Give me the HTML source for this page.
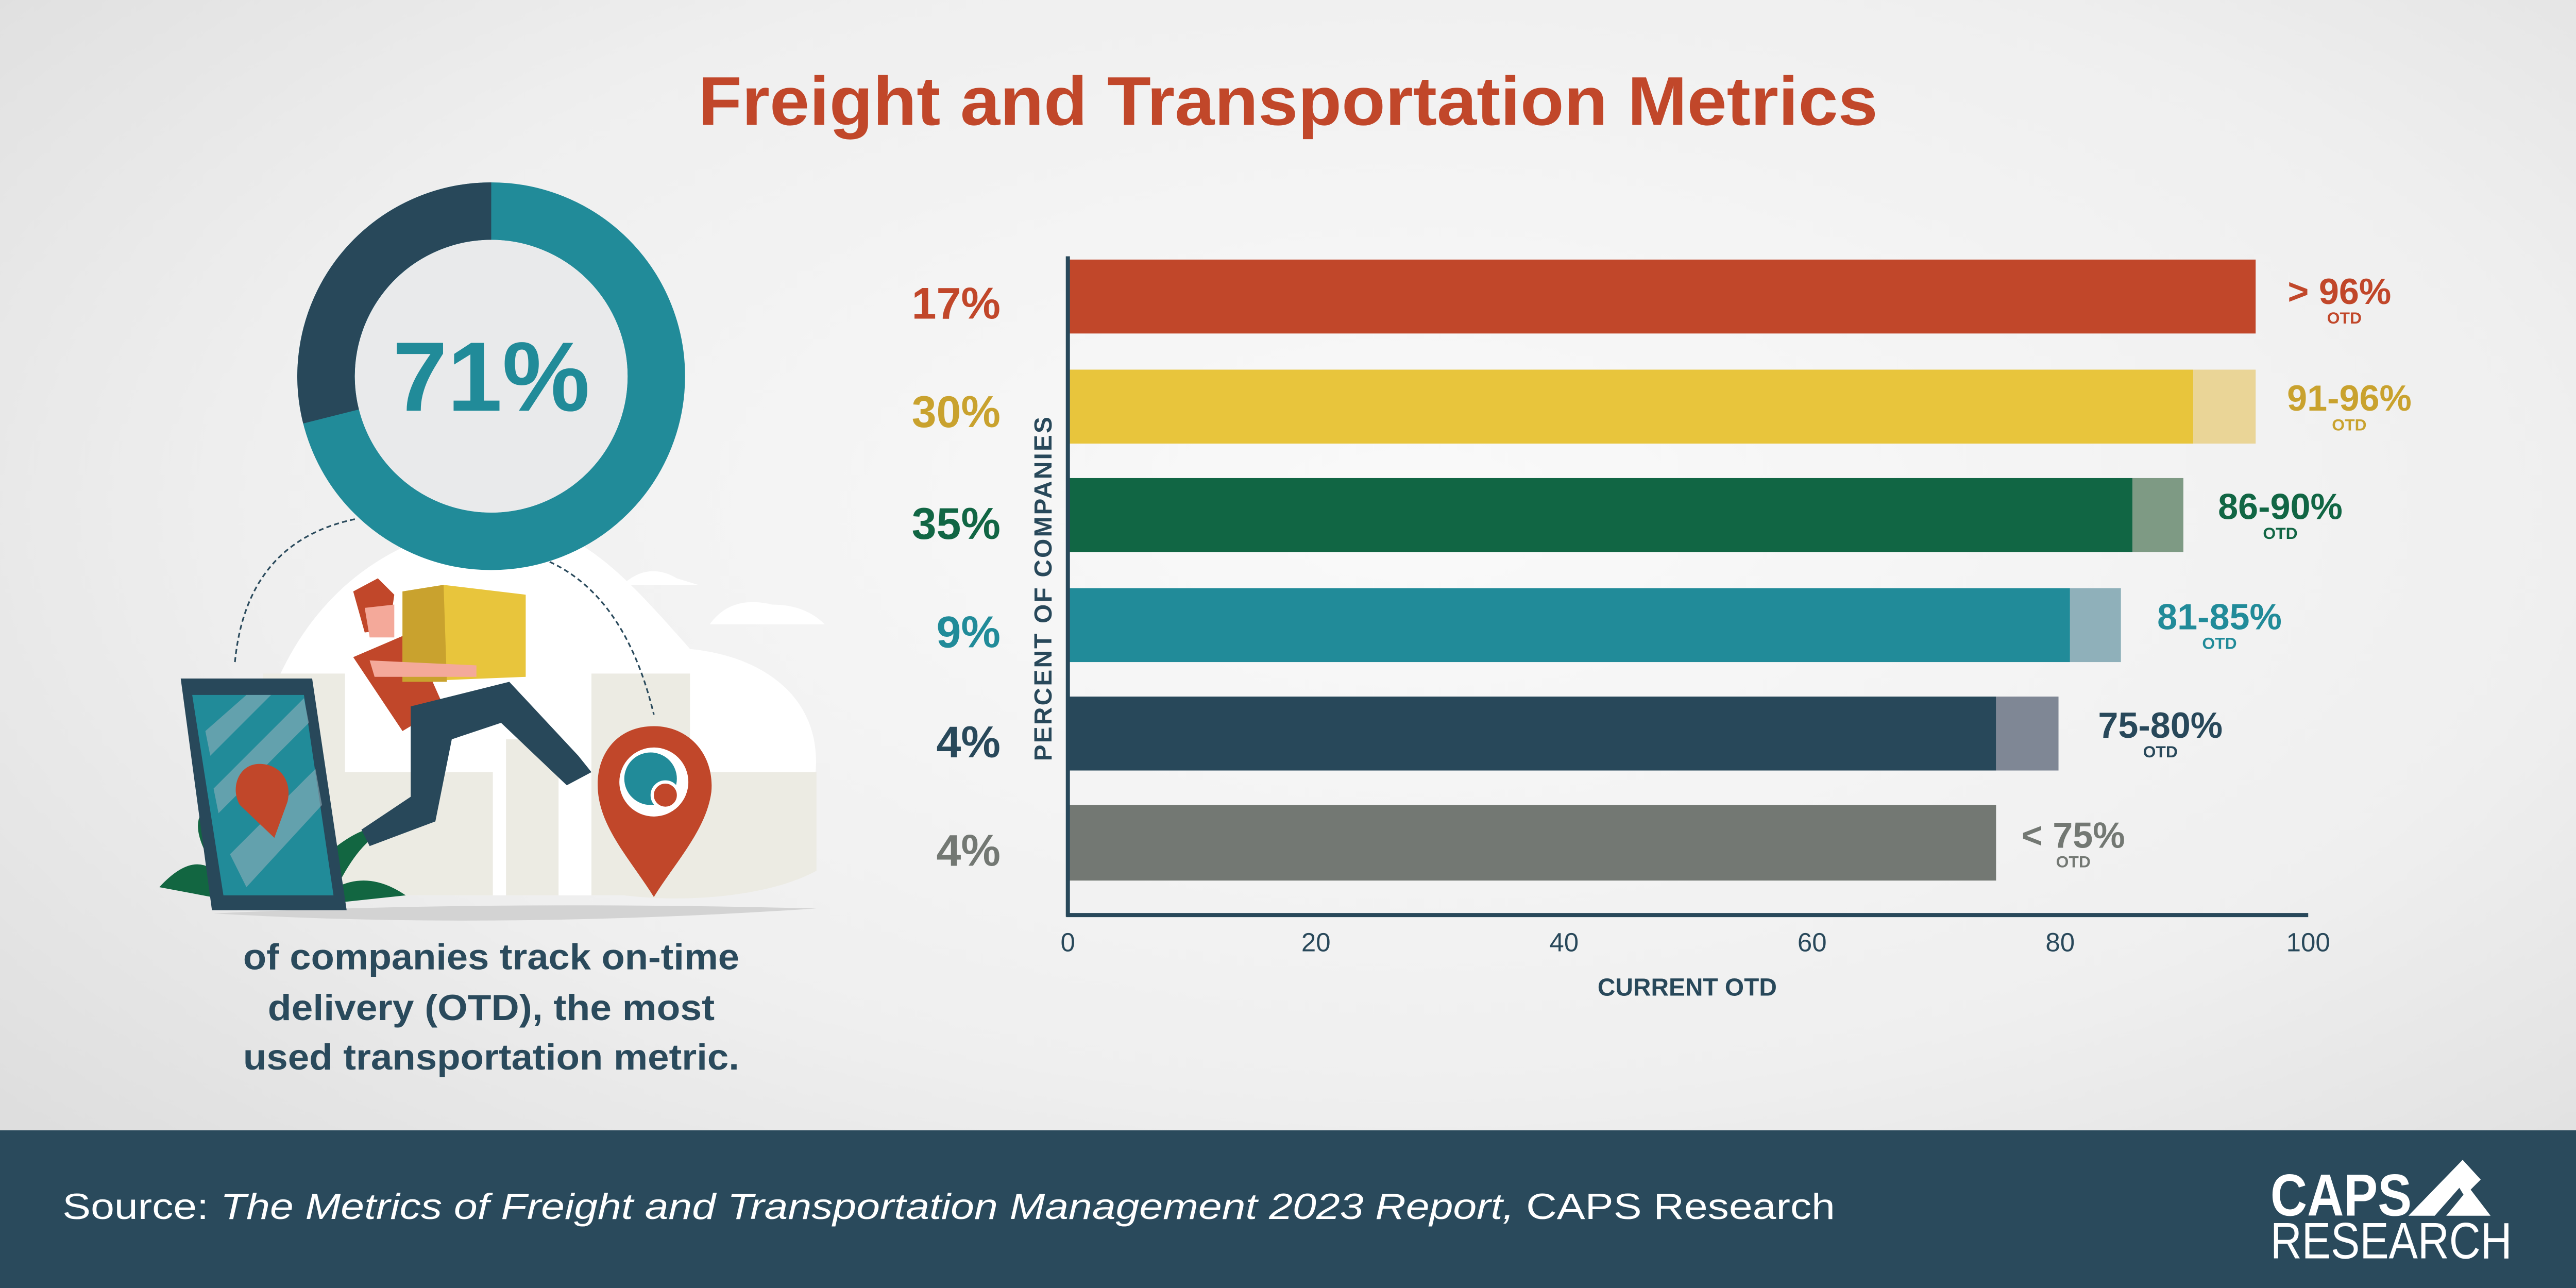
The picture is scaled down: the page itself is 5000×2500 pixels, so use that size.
<!DOCTYPE html>
<html><head><meta charset="utf-8"><style>
html,body{margin:0;padding:0;width:5000px;height:2500px;overflow:hidden;background:#eee}
svg{display:block}
text{font-family:"Liberation Sans",sans-serif}
</style></head><body>
<svg width="5000" height="2500" viewBox="0 0 1568 784" xmlns="http://www.w3.org/2000/svg">
<defs>
<radialGradient id="bg" cx="0.55" cy="0.4" r="0.75">
<stop offset="0" stop-color="#fafafa"/><stop offset="0.6" stop-color="#efefef"/><stop offset="1" stop-color="#dcdcdc"/>
</radialGradient>
</defs>
<rect width="1568" height="784" fill="url(#bg)"/>
<text x="784" y="76" text-anchor="middle" font-size="42" font-weight="bold" fill="#C1472A" textLength="718" lengthAdjust="spacingAndGlyphs">Freight and Transportation Metrics</text>

<g>
<path d="M150,545 C140,430 190,330 300,318 C350,315 380,350 420,395 C470,400 505,430 495,480 C490,530 440,545 400,545 Z" fill="#ffffff"/>
<path d="M160,545 L160,410 L210,410 L210,545 Z" fill="#ecebe3"/>
<path d="M190,470 L300,470 L300,545 L190,545 Z" fill="#ecebe3"/>
<path d="M360,410 L420,410 L420,470 L497,470 L497,530 C470,545 420,550 380,545 L360,545 Z" fill="#ecebe3"/>
<path d="M308,450 L340,450 L340,545 L308,545 Z" fill="#ecebe3"/>
<path d="M380,355 Q395,342 412,352 L425,356 L380,356 Z" fill="#fff"/>
<path d="M432,380 Q445,362 470,368 Q490,368 502,380 Z" fill="#fff"/>
<path d="M130,556 Q300,548 497,553 Q300,566 130,556 Z" fill="#d3d3d3"/>
<path d="M143,403 Q150,330 216,316" fill="none" stroke="#2A4A5C" stroke-width="1" stroke-dasharray="3,2"/>
<path d="M330,340 Q380,360 398,435" fill="none" stroke="#2A4A5C" stroke-width="1" stroke-dasharray="3,2"/>
<path d="M97,540 Q120,515 135,535 Q110,500 128,490 Q150,515 150,550 Z" fill="#126641"/>
<path d="M247,545 Q225,530 205,540 Q220,510 236,505 Q225,500 205,515 L200,550 Z" fill="#126641"/>
<path d="M110,413 L190,413 L211,554 L129,554 Z" fill="#28485A"/>
<path d="M117,423 L185,423 L203,545 L136,545 Z" fill="#218B99"/>
<path d="M125,445 L150,423 L165,423 L128,460 Z M130,480 L185,425 L188,440 L133,495 Z M140,520 L192,468 L196,490 L150,540 Z" fill="#8FB0BA" opacity="0.6"/>
<path d="M158,465 C145,465 140,480 146,490 L167,510 L175,488 C178,475 170,465 158,465 Z" fill="#C1472A"/>
<path d="M215,360 L230,352 L240,362 L237,383 L222,385 Z" fill="#C1472A"/>
<path d="M222,370 L240,368 L240,388 L225,388 Z" fill="#f4a99a"/>
<path d="M215,400 L250,385 L270,430 L245,445 Z" fill="#C1472A"/>
<path d="M245,360 L270,356 L320,362 L320,412 L245,415 Z" fill="#E8C53C"/>
<path d="M245,360 L270,356 L272,415 L245,415 Z" fill="#C9A22E"/>
<path d="M250,430 L310,415 L352,460 L360,470 L345,478 L305,440 L275,450 L265,500 L225,515 L220,505 L250,485 Z" fill="#28485A"/>
<path d="M225,402 L290,405 L290,412 L228,412 Z" fill="#f4a99a"/>
<path d="M398,442 C375,442 362,460 364,482 C366,505 385,525 398,546 C411,525 430,505 433,482 C435,460 420,442 398,442 Z" fill="#C1472A"/>
<circle cx="398" cy="476" r="21" fill="#fff"/>
<circle cx="396" cy="474" r="16" fill="#218B99"/>
<circle cx="405" cy="484" r="8" fill="#C1472A" stroke="#fff" stroke-width="2"/>
<circle cx="299" cy="229" r="100.5" fill="none" stroke="#218B99" stroke-width="35"/>
<path d="M299,128.5 A100.5,100.5 0 0 0 201.5,253.5" fill="none" stroke="#28485A" stroke-width="35"/>
<circle cx="299" cy="229" r="83" fill="#e9eaeb"/>
<text x="299" y="250" text-anchor="middle" font-size="60" font-weight="bold" fill="#218B99">71%</text>
<g font-size="22" fill="#2A4A5C" text-anchor="middle" font-weight="bold">
<text x="299" y="590" textLength="302" lengthAdjust="spacingAndGlyphs">of companies track on-time</text>
<text x="299" y="621" textLength="272" lengthAdjust="spacingAndGlyphs">delivery (OTD), the most</text>
<text x="299" y="651" textLength="302" lengthAdjust="spacingAndGlyphs">used transportation metric.</text>
</g>
</g>

<g>
<rect x="650" y="158" width="723" height="45" fill="#C1472A"/>
<rect x="650" y="225" width="685" height="45" fill="#E8C53C"/>
<rect x="1335" y="225" width="38" height="45" fill="#EAD597"/>
<rect x="650" y="291" width="648" height="45" fill="#116644"/>
<rect x="1298" y="291" width="31" height="45" fill="#7E9A84"/>
<rect x="650" y="358" width="610" height="45" fill="#218B99"/>
<rect x="1260" y="358" width="31" height="45" fill="#8FB0BA"/>
<rect x="650" y="424" width="565" height="45" fill="#28485A"/>
<rect x="1215" y="424" width="38" height="45" fill="#7F8795"/>
<rect x="650" y="490" width="565" height="46" fill="#737873"/>
<line x1="650" y1="156" x2="650" y2="558" stroke="#28485A" stroke-width="2.5"/>
<line x1="649" y1="557" x2="1405" y2="557" stroke="#28485A" stroke-width="2.5"/>
<g font-size="16" fill="#28485A" text-anchor="middle">
<text x="650" y="579">0</text><text x="801" y="579">20</text><text x="952" y="579">40</text>
<text x="1103" y="579">60</text><text x="1254" y="579">80</text><text x="1405" y="579">100</text>
</g>
<text x="1027" y="606" text-anchor="middle" font-size="15" font-weight="bold" fill="#28485A">CURRENT OTD</text>
<text transform="translate(640,358) rotate(-90)" text-anchor="middle" font-size="15" font-weight="bold" fill="#28485A" letter-spacing="1">PERCENT OF COMPANIES</text>
<g font-size="27" font-weight="bold" text-anchor="end">
<text x="609" y="194" fill="#C1472A">17%</text>
<text x="609" y="260" fill="#C9A22E">30%</text>
<text x="609" y="328" fill="#116644">35%</text>
<text x="609" y="394" fill="#218B99">9%</text>
<text x="609" y="461" fill="#28485A">4%</text>
<text x="609" y="527" fill="#737873">4%</text>
</g>
<g font-weight="bold" text-anchor="middle">
<text x="1424" y="185" font-size="22" fill="#C1472A">&gt; 96%</text>
<text x="1427" y="197" font-size="10" fill="#C1472A">OTD</text>
<text x="1430" y="250" font-size="22" fill="#C9A22E">91-96%</text>
<text x="1430" y="262" font-size="10" fill="#C9A22E">OTD</text>
<text x="1388" y="316" font-size="22" fill="#116644">86-90%</text>
<text x="1388" y="328" font-size="10" fill="#116644">OTD</text>
<text x="1351" y="383" font-size="22" fill="#218B99">81-85%</text>
<text x="1351" y="395" font-size="10" fill="#218B99">OTD</text>
<text x="1315" y="449" font-size="22" fill="#28485A">75-80%</text>
<text x="1315" y="461" font-size="10" fill="#28485A">OTD</text>
<text x="1262" y="516" font-size="22" fill="#737873">&lt; 75%</text>
<text x="1262" y="528" font-size="10" fill="#737873">OTD</text>
</g>
</g>

<rect x="0" y="688" width="1568" height="96" fill="#2A4A5C"/>
<text x="38" y="742" font-size="22" fill="#ffffff" textLength="1079" lengthAdjust="spacingAndGlyphs">Source: <tspan font-style="italic">The Metrics of Freight and Transportation Management 2023 Report,</tspan> CAPS Research</text>
<text x="1382" y="740" font-size="36" font-weight="bold" fill="#fff" textLength="86" lengthAdjust="spacingAndGlyphs">CAPS</text>
<text x="1382" y="766" font-size="31" fill="#fff" textLength="147" lengthAdjust="spacingAndGlyphs">RESEARCH</text>
<path d="M1466,740 L1499,706 L1510,718 L1500,728 L1497,723 L1482,740 Z" fill="#fff"/>
<path d="M1489,740 L1503,723 L1516,740 Z" fill="#fff"/>
</svg>
</body></html>
